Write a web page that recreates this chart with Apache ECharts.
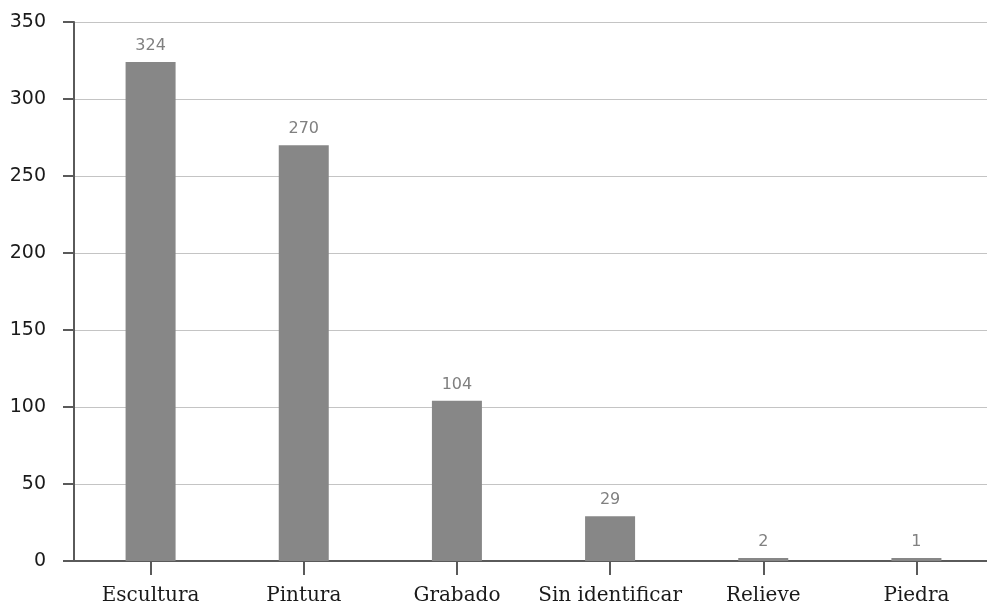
<!DOCTYPE html>
<html>
<head>
<meta charset="utf-8">
<script src="https://cdn.jsdelivr.net/npm/echarts@6/dist/echarts.min.js"></script>
<style>
  html, body { margin: 0; padding: 0; background: #fff; }
  #chart { width: 987px; height: 610px; }
</style>
</head>
<body>
<div id="chart"></div>
<script>
// categorias y valores
const categorias = ['Escultura', 'Pintura', 'Grabado', 'Sin identificar', 'Relieve', 'Piedra']
const valores = [324, 270, 104, 29, 2, 1]
const yMin = 0
const yMax = 350
const yPaso = 50

const chart = echarts.init(document.getElementById('chart'))
chart.setOption({
  backgroundColor: '#fff',
  animation: false,
  grid: { left: 74, width: 919, top: 22, bottom: 49, outerBoundsMode: 'none' },
  xAxis: {
    type: 'category',
    data: categorias,
    axisLine: { lineStyle: { color: '#5a5a5a', width: 2 } },
    axisTick: { show: true, alignWithLabel: true, length: 14, lineStyle: { color: '#5a5a5a', width: 2 } },
    axisLabel: {
      interval: 0,
      margin: 25,
      fontFamily: "'DejaVu Serif', serif",
      fontSize: 20,
      color: '#1a1a1a'
    }
  },
  yAxis: {
    type: 'value',
    min: yMin,
    max: yMax,
    interval: yPaso,
    axisLine: { show: true, lineStyle: { color: '#5a5a5a', width: 2 } },
    axisTick: { show: true, length: 11, lineStyle: { color: '#5a5a5a', width: 2 } },
    axisLabel: {
      margin: 28,
      fontFamily: 'DejaVu Sans',
      fontSize: 19,
      color: '#1a1a1a'
    },
    splitLine: { lineStyle: { color: '#c4c4c4', width: 1 } }
  },
  series: [{
    type: 'bar',
    data: valores,
    barWidth: 50,
    barMinHeight: 3,
    itemStyle: { color: '#878787' },
    label: {
      show: true,
      position: 'top',
      distance: 8,
      fontFamily: 'DejaVu Sans',
      fontSize: 16,
      color: '#808080'
    }
  }]
})
</script>
</body>
</html>
